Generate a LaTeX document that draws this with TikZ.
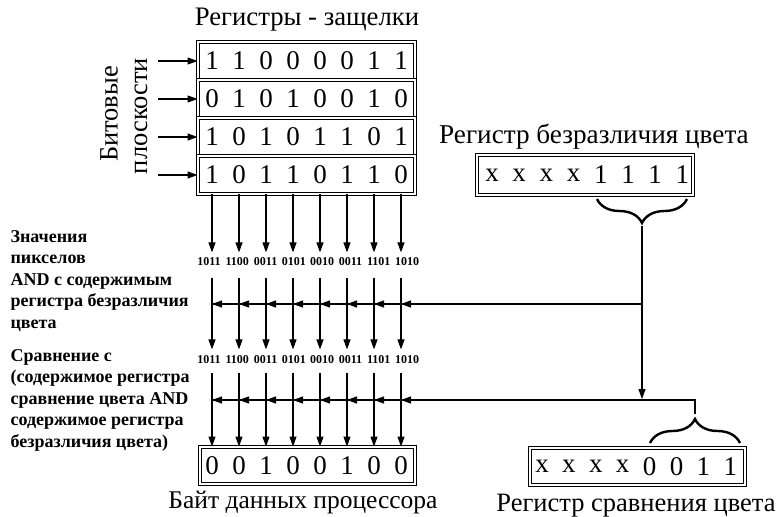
\documentclass[tikz,border=0pt]{standalone}
\usepackage{fontspec}
\setmainfont{Liberation Serif}
\usetikzlibrary{arrows.meta,decorations.pathreplacing,calc}

\begin{document}
\begin{tikzpicture}[x=1pt,y=-1pt,line width=1.1pt,
  arr/.style={-{Triangle[length=10pt,width=7pt]}},
  regbox/.style={draw,double,double distance=1.3pt,line width=0.9pt,inner sep=0pt},
  bigdigit/.style={inner sep=0pt,font=\fontsize{27}{30}\selectfont},
  title/.style={inner sep=0pt,font=\fontsize{#1}{30}\selectfont},
  small/.style={inner sep=0pt,font=\bfseries\fontsize{12}{13}\selectfont},
  note/.style={inner sep=0pt,anchor=base west,font=\bfseries\fontsize{18}{21}\selectfont},
  brace/.style={decorate,decoration={brace,amplitude=24pt},line width=2.4pt}
]
\useasboundingbox (0,0) rectangle (780,517);

% column positions of the eight pixels
\foreach \i in {0,...,7}{\coordinate (c\i) at ({212+27*\i},0);}

% latch registers
\node[title=26.7] (latchtitle) at (307,20) {Регистры - защелки};
\foreach \r/\y in {1/61,2/99,3/137,4/175}{
  \node[regbox,minimum width=217pt,minimum height=38pt] (row\r) at (306.5,\y) {};
  \coordinate (in\r) at (158,\y);
  \draw[arr] (in\r) -- (row\r.west);
}
\foreach \d [count=\i from 0] in {1,1,0,0,0,0,1,1}{\node[bigdigit] (ra\i) at (c\i|-row1) {\d};}
\foreach \d [count=\i from 0] in {0,1,0,1,0,0,1,0}{\node[bigdigit] (rb\i) at (c\i|-row2) {\d};}
\foreach \d [count=\i from 0] in {1,0,1,0,1,1,0,1}{\node[bigdigit] (rc\i) at (c\i|-row3) {\d};}
\foreach \d [count=\i from 0] in {1,0,1,1,0,1,1,0}{\node[bigdigit] (rd\i) at (c\i|-row4) {\d};}

\node[title=26.5,rotate=90] (planes1) at (109,114) {Битовые};
\node[title=26.5,rotate=90] (planes2) at (141,116) {плоскости};

% pixel values after the latches
\foreach \v [count=\i from 0] in {1011,1100,0011,0101,0010,0011,1101,1010}{
  \node[small] (p\i) at ({209+28.3*\i},262) {\v};
}
\foreach \v [count=\i from 0] in {1011,1100,0011,0101,0010,0011,1101,1010}{
  \node[small] (q\i) at ({209+28.3*\i},360) {\v};
}

% byte box
\node[regbox,minimum width=215pt,minimum height=37pt] (byte) at (307.5,465.5) {};
\foreach \d [count=\i from 0] in {0,0,1,0,0,1,0,0}{\node[bigdigit] (bd\i) at (c\i|-byte) {\d};}
\node[title=25.5] (bytetitle) at (303,502) {Байт данных процессора};

% vertical column connectors
\foreach \i in {0,...,7}{
  \draw[arr] (row4.south-|c\i) -- ($(c\i|-p\i.north)+(0,-5)$);
  \draw[arr] ($(c\i|-p\i.south)+(0,11)$) -- ($(c\i|-q\i.north)+(0,-6)$);
  \draw[arr] ($(c\i|-q\i.south)+(0,8)$) -- (byte.north-|c\i);
}

% color don't care register
\node[title=27.2] (dctitle) at (594,137) {Регистр безразличия цвета};
\node[regbox,minimum width=216pt,minimum height=40pt] (dc) at (585,175) {};
\foreach \d [count=\i from 0] in {x,x,x,x,1,1,1,1}{\node[bigdigit] (dcd\i) at ({492+27.2*\i},175) {\d};}
\draw[brace] (687,199) -- (597,199);
\coordinate (b1) at (642,226);
\coordinate (j1) at (642,304);
\coordinate (j2) at (642,399);

% color compare register
\node[regbox,minimum width=215pt,minimum height=37pt] (cc) at (637.5,466.5) {};
\foreach \d [count=\i from 0] in {x,x,x,x,0,0,1,1}{\node[bigdigit] (ccd\i) at ({542+26.9*\i},466.5) {\d};}
\node[title=26.5] (cctitle) at (636,506) {Регистр сравнения цвета};
\draw[brace] (650,443) -- (740,443);
\coordinate (b2) at (695,414);
\coordinate (k2) at (695,400);

% mask and compare buses
\draw[arr] (b1) -- (j2);
\draw (j1) -- (c0|-j1);
\draw (b2) -- (k2) -- (c0|-k2);
\foreach \i in {0,...,7}{
  \draw[arr] ($(c\i|-j1)+(12,0)$) -- (c\i|-j1);
  \draw[arr] ($(c\i|-k2)+(12,0)$) -- (c\i|-k2);
}

% explanatory notes, one node per line
\foreach \t [count=\n] in {{Значения},{пикселов},{AND с содержимым},{регистра безразличия},{цвета}}{
  \node[note] (na\n) at (10,{242+21.5*(\n-1)}) {\t};
}
\foreach \t [count=\n] in {{Сравнение с},{(содержимое регистра},{сравнение цвета AND},{содержимое регистра},{безразличия цвета)}}{
  \node[note] (nb\n) at (10,{361+21.5*(\n-1)}) {\t};
}
\end{tikzpicture}
\end{document}
